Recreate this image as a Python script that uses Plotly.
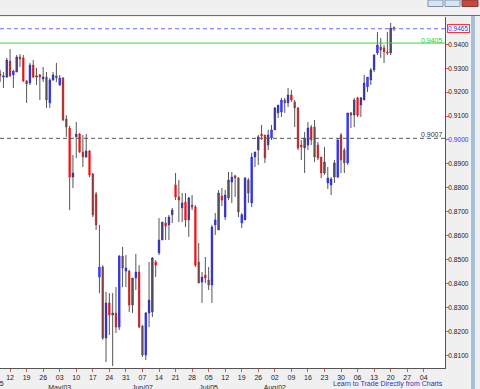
import plotly.graph_objects as go
import pandas as pd

# ---------------- data (AUD/USD style daily candles) ----------------
open_ = [0.9276,0.9263,0.9263,0.9330,0.9272,0.9284,0.9347,0.9343,0.9247,0.9238,
         0.9313,0.9263,0.9272,0.9255,0.9263,0.9155,0.9251,0.9268,0.9230,0.9259,
         0.9088,0.9050,0.8845,0.9013,0.9025,0.8950,0.8929,0.8954,0.8858,0.8774,
         0.8427,0.8469,0.8172,0.8319,0.8268,0.8277,0.8218,0.8515,0.8452,0.8452,
         0.8310,0.8423,0.8448,0.8222,0.8101,0.8277,0.8281,0.8490,0.8528,0.8582,
         0.8653,0.8645,0.8687,0.8812,0.8762,0.8716,0.8741,0.8666,0.8728,0.8720,
         0.8490,0.8406,0.8436,0.8415,0.8394,0.8645,0.8624,0.8766,0.8678,0.8758,
         0.8824,0.8850,0.8841,0.8653,0.8666,0.8833,0.8737,0.8929,0.8958,0.9025,
         0.9021,0.8979,0.9008,0.9042,0.9113,0.9117,0.9167,0.9155,0.9188,0.9159,
         0.9134,0.8979,0.8967,0.8979,0.9054,0.9054,0.8979,0.8929,0.8862,0.8820,
         0.8812,0.8845,0.8845,0.9021,0.8958,0.8904,0.9113,0.9104,0.9176,0.9146,
         0.9167,0.9222,0.9251,0.9293,0.9364,0.9389,0.9385,0.9368,0.9364,0.9470]
high = [0.9293,0.9284,0.9343,0.9380,0.9293,0.9355,0.9359,0.9355,0.9251,0.9322,
        0.9334,0.9301,0.9276,0.9305,0.9284,0.9259,0.9284,0.9322,0.9272,0.9263,
        0.9104,0.9059,0.8937,0.9075,0.9029,0.9021,0.9025,0.8958,0.8862,0.8783,
        0.8645,0.8477,0.8365,0.8360,0.8360,0.8385,0.8519,0.8553,0.8519,0.8457,
        0.8423,0.8524,0.8477,0.8227,0.8281,0.8490,0.8511,0.8498,0.8674,0.8657,
        0.8678,0.8687,0.8716,0.8862,0.8833,0.8778,0.8778,0.8762,0.8770,0.8728,
        0.8569,0.8448,0.8511,0.8469,0.8645,0.8695,0.8791,0.8799,0.8791,0.8866,
        0.8866,0.8854,0.8845,0.8695,0.8845,0.8841,0.8946,0.8950,0.9021,0.9063,
        0.9021,0.9042,0.9063,0.9138,0.9146,0.9176,0.9176,0.9217,0.9209,0.9167,
        0.9138,0.9000,0.9033,0.9075,0.9063,0.9084,0.8992,0.8929,0.8971,0.8887,
        0.8845,0.8916,0.9008,0.9029,0.8967,0.9113,0.9117,0.9176,0.9180,0.9180,
        0.9272,0.9263,0.9301,0.9359,0.9451,0.9426,0.9397,0.9451,0.9489,0.9475]
low = [0.9242,0.9217,0.9259,0.9263,0.9217,0.9284,0.9305,0.9242,0.9155,0.9230,
       0.9259,0.9230,0.9167,0.9242,0.9134,0.9134,0.9247,0.9242,0.9226,0.9079,
       0.9013,0.8707,0.8799,0.8925,0.8946,0.8887,0.8925,0.8845,0.8678,0.8624,
       0.8360,0.8164,0.8072,0.8185,0.8055,0.8193,0.8206,0.8385,0.8385,0.8281,
       0.8277,0.8373,0.8214,0.8093,0.8080,0.8218,0.8260,0.8427,0.8519,0.8582,
       0.8582,0.8582,0.8653,0.8749,0.8657,0.8657,0.8636,0.8595,0.8707,0.8469,
       0.8402,0.8319,0.8402,0.8373,0.8319,0.8603,0.8624,0.8724,0.8666,0.8749,
       0.8737,0.8762,0.8678,0.8632,0.8666,0.8737,0.8720,0.8887,0.8896,0.9000,
       0.8904,0.8958,0.9000,0.9042,0.9092,0.9096,0.9113,0.9138,0.9159,0.9054,
       0.8958,0.8916,0.8862,0.8958,0.8979,0.8908,0.8916,0.8841,0.8854,0.8795,
       0.8770,0.8820,0.8841,0.8862,0.8862,0.8896,0.9050,0.9054,0.9096,0.9096,
       0.9167,0.9201,0.9230,0.9284,0.9355,0.9343,0.9322,0.9355,0.9355,0.9455]
close = [0.9268,0.9268,0.9334,0.9268,0.9288,0.9347,0.9339,0.9247,0.9234,0.9313,
         0.9263,0.9268,0.9263,0.9263,0.9167,0.9251,0.9272,0.9259,0.9259,0.9084,
         0.9054,0.8845,0.8862,0.9025,0.8950,0.8929,0.8954,0.8854,0.8687,0.8645,
         0.8469,0.8172,0.8319,0.8268,0.8277,0.8218,0.8515,0.8465,0.8465,0.8310,
         0.8423,0.8448,0.8218,0.8101,0.8277,0.8331,0.8507,0.8477,0.8582,0.8657,
         0.8640,0.8678,0.8707,0.8762,0.8749,0.8737,0.8666,0.8758,0.8720,0.8477,
         0.8402,0.8427,0.8423,0.8394,0.8636,0.8666,0.8778,0.8749,0.8770,0.8833,
         0.8845,0.8841,0.8699,0.8687,0.8841,0.8778,0.8929,0.8950,0.9013,0.9017,
         0.8925,0.9021,0.9042,0.9134,0.9146,0.9167,0.9155,0.9188,0.9167,0.9134,
         0.8967,0.8971,0.9008,0.9050,0.9000,0.8929,0.8925,0.8862,0.8908,0.8841,
         0.8837,0.8904,0.9000,0.8916,0.8904,0.9113,0.9104,0.9167,0.9104,0.9176,
         0.9238,0.9263,0.9293,0.9355,0.9397,0.9376,0.9368,0.9364,0.9468,0.9465]
dates = pd.bdate_range("2010-04-07", periods=len(open_))

week_ticks = ["2010-04-12","2010-04-19","2010-04-26","2010-05-03","2010-05-10","2010-05-17",
              "2010-05-24","2010-05-31","2010-06-07","2010-06-14","2010-06-21","2010-06-28",
              "2010-07-05","2010-07-12","2010-07-19","2010-07-26","2010-08-02","2010-08-09",
              "2010-08-16","2010-08-23","2010-08-30","2010-09-06","2010-09-13","2010-09-20",
              "2010-09-27","2010-10-04"]
week_labels = ["12","19","26","03","10","17","24","31","07","14","21","28","05","12","19",
               "26","02","09","16","23","30","06","13","20","27","04"]
month_labels = {"2010-05-03": "May/03", "2010-06-07": "Jun/07",
                "2010-07-05": "Jul/05", "2010-08-02": "Aug/02"}

y_ticks = [0.81,0.82,0.83,0.84,0.85,0.86,0.87,0.88,0.89,0.90,0.91,0.92,0.93,0.94]
y_labels = ["0.8100","0.8200","0.8300","0.8400","0.8500","0.8600","0.8700","0.8800",
            "0.8900","0.9000","0.9100","0.9200","0.9300","0.9400"]

current_price = 0.9465
green_level = 0.9405
grey_level = 0.9007

# ---------------- styling ----------------
BLUE = "#0000ff"
RED = "#ff0000"
WICK = "#555555"
FONT = "Liberation Sans, Arial, sans-serif"

fig = go.Figure()

# wicks (high-low range)
fig.add_trace(go.Ohlc(x=dates, open=open_, high=high, low=low, close=close,
                      tickwidth=0,
                      increasing=dict(line=dict(color=WICK, width=1)),
                      decreasing=dict(line=dict(color=WICK, width=1)),
                      hoverinfo="skip", showlegend=False))

# bodies (open-close)
body_top = [max(o, c) for o, c in zip(open_, close)]
body_bot = [min(o, c) for o, c in zip(open_, close)]
fig.add_trace(go.Candlestick(x=dates, open=open_, close=close, high=body_top, low=body_bot,
                             increasing=dict(line=dict(color=BLUE, width=0.5), fillcolor=BLUE),
                             decreasing=dict(line=dict(color=RED, width=0.5), fillcolor=RED),
                             whiskerwidth=0, hoverinfo="skip", showlegend=False))

ticktext = []
for d, lab in zip(week_ticks, week_labels):
    if d in month_labels:
        ticktext.append(lab + "<br>" + month_labels[d])
    else:
        ticktext.append(lab)

ytext = [('<span style="color:#3333ff">%s</span>' % t) if t == "0.9000" else t for t in y_labels]

fig.update_layout(
    width=480, height=389,
    margin=dict(l=0, r=35, t=17, b=21, autoexpand=False),
    paper_bgcolor="#f0f0f0",
    plot_bgcolor="#ffffff",
    font=dict(family=FONT, size=7, color="#222222"),
    showlegend=False,
    xaxis=dict(
        type="date",
        rangebreaks=[dict(bounds=["sat", "mon"])],
        range=["2010-04-06 23:00", "2010-10-12 10:00"],
        rangeslider=dict(visible=False),
        tickmode="array", tickvals=week_ticks, ticktext=ticktext,
        tickangle=0, automargin=False,
        ticks="outside", ticklen=3, tickcolor="#ff4444", tickwidth=1,
        showgrid=False, zeroline=False,
        showline=True, linecolor="#555555", linewidth=1,
        tickfont=dict(size=7, color="#222222"),
        fixedrange=True,
    ),
    yaxis=dict(
        side="right",
        range=[0.8047, 0.9514],
        tickmode="array", tickvals=y_ticks, ticktext=ytext,
        automargin=False, ticklabelstandoff=-2,
        ticks="outside", ticklen=3, tickcolor="#ff4444", tickwidth=1,
        showgrid=False, zeroline=False,
        showline=True, linecolor="#555555", linewidth=1,
        tickfont=dict(size=6.6, color="#222222"),
        fixedrange=True,
    ),
)

# horizontal level lines
fig.add_hline(y=current_price, line=dict(color="#6b6bff", width=1, dash="4px,3px"))
fig.add_hline(y=green_level, line=dict(color="#33dd33", width=1))
fig.add_hline(y=grey_level, line=dict(color="#555555", width=1, dash="4px,3px"))

fig.add_annotation(x=1, xref="paper", y=green_level, yref="y", text="%.4f" % green_level,
                   showarrow=False, xanchor="right", yanchor="bottom", yshift=-3,
                   font=dict(size=7, color="#33cc33"))
fig.add_annotation(x=1, xref="paper", y=grey_level, yref="y", text="%.4f" % grey_level,
                   showarrow=False, xanchor="right", yanchor="bottom", yshift=-2,
                   font=dict(size=7, color="#333333"))
fig.add_annotation(x=1, xref="paper", y=current_price, yref="y", text="%.4f" % current_price,
                   showarrow=False, xanchor="left", yanchor="middle", xshift=2,
                   bgcolor="#ffffff", bordercolor="#ff3333", borderwidth=1, borderpad=0,
                   font=dict(size=6.6, color="#3333ff"))

# first (cut-off) month label and footer link
fig.add_annotation(x=-6.5 / 445, xref="paper", y=0, yref="paper", yshift=-10,
                   text="Apr/05", showarrow=False, xanchor="center", yanchor="top",
                   font=dict(size=7, color="#222222"))
fig.add_annotation(x=1, xref="paper", y=0, yref="paper", yshift=-10,
                   text="Learn to Trade Directly from Charts", showarrow=False,
                   xanchor="right", yanchor="top", font=dict(size=7, color="#3333bb"))

# window chrome (title bar, frame)
H = 351.0
W = 445.0
def py(Y):
    return (368 - Y) / H
def px(X):
    return X / W
shapes = [
    dict(type="rect", xref="paper", yref="paper", x0=px(-1), x1=px(481), y0=py(4), y1=py(-1),
         fillcolor="#98b6d9", line=dict(width=0), layer="above"),
    dict(type="rect", xref="paper", yref="paper", x0=px(-1), x1=px(481), y0=py(8), y1=py(4),
         fillcolor="#b6cde8", line=dict(width=0), layer="above"),
    dict(type="rect", xref="paper", yref="paper", x0=px(-1), x1=px(481), y0=py(15), y1=py(8),
         fillcolor="#ececec", line=dict(width=0), layer="above"),
    dict(type="line", xref="paper", yref="paper", x0=px(-1), x1=px(481), y0=py(15.5), y1=py(15.5),
         line=dict(color="#6e6e6e", width=1.2), layer="above"),
    dict(type="rect", xref="paper", yref="paper", x0=px(471), x1=px(475), y0=py(390), y1=py(16),
         fillcolor="#a9c0dc", line=dict(width=0), layer="above"),
    dict(type="rect", xref="paper", yref="paper", x0=px(428), x1=px(443), y0=py(6.5), y1=py(0),
         fillcolor="#d8e4f0", line=dict(color="#7f93ad", width=1), layer="above"),
    dict(type="rect", xref="paper", yref="paper", x0=px(445), x1=px(460), y0=py(6.5), y1=py(0),
         fillcolor="#d8e4f0", line=dict(color="#7f93ad", width=1), layer="above"),
    dict(type="rect", xref="paper", yref="paper", x0=px(462), x1=px(478), y0=py(6.5), y1=py(0),
         fillcolor="#c9473d", line=dict(color="#8a3a36", width=1), layer="above"),
]
fig.update_layout(shapes=shapes)

fig.write_html("out.html", config={"displayModeBar": False, "staticPlot": True},
               post_script="document.body.style.margin='0';document.body.style.padding='0';")
